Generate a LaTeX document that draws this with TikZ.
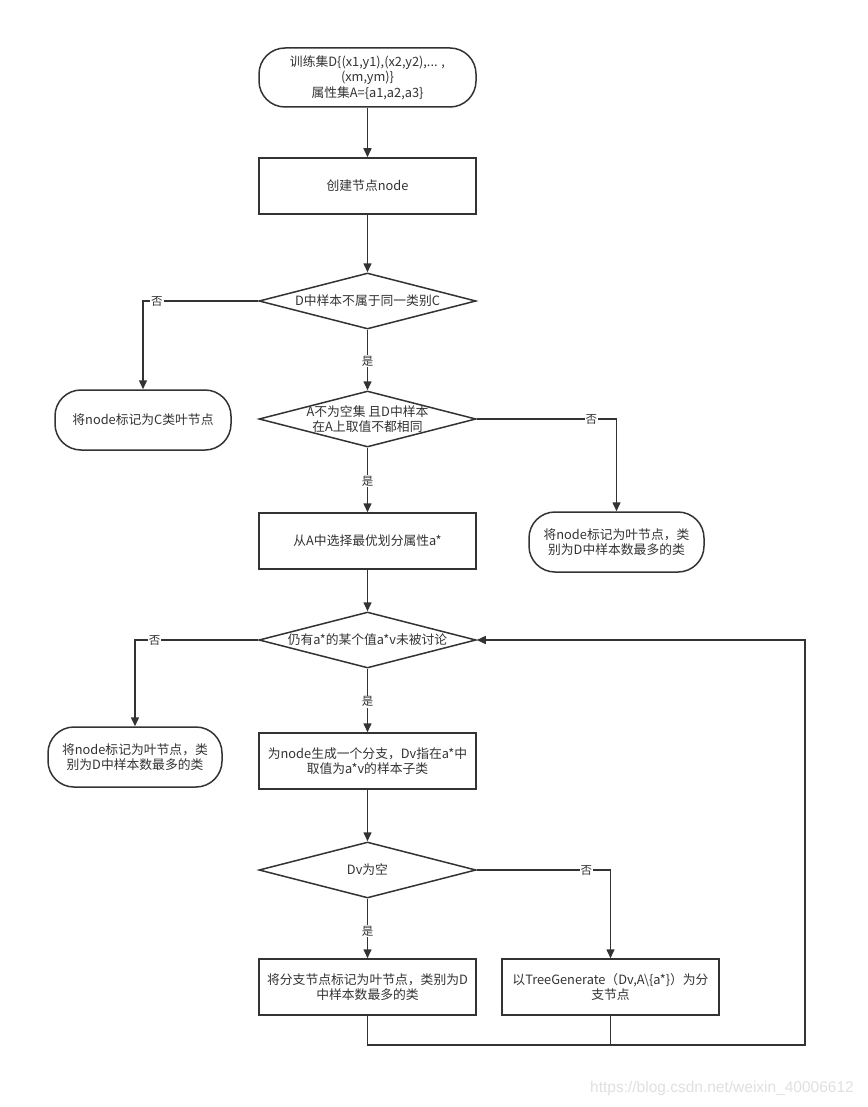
\documentclass[tikz,border=0pt]{standalone}
\usepackage{fontspec}
\newfontfamily\cjk{Noto Sans CJK SC}
\newfontfamily\wmfont{Liberation Sans}
\usetikzlibrary{shapes.geometric,arrows.meta}
\definecolor{ln}{HTML}{333333}
\begin{document}
\begin{tikzpicture}[x=1pt,y=-1pt,
 every node/.style={font=\cjk\fontsize{12.8}{15.5}\selectfont, text=ln},
 proc/.style={draw=ln, line width=1.5pt, rectangle, minimum width=217pt, minimum height=56pt, align=center, fill=white},
 term/.style={draw=ln, line width=1.5pt, rectangle, rounded corners=26pt, minimum height=60pt, align=center, fill=white},
 dec/.style={draw=ln, line width=1.5pt, diamond, minimum width=217pt, minimum height=56pt, inner sep=0pt, fill=white},
 yn/.style={fill=white, inner sep=1pt, font=\cjk\fontsize{11.5}{13}\selectfont},
 conn/.style={draw=ln, line width=1.5pt, -{Triangle[length=9pt,width=8pt]}},
 plain/.style={draw=ln, line width=1.5pt},
]
\useasboundingbox[fill=white] (0,0) rectangle (867,1107);

\node[term, minimum width=217pt, minimum height=59pt] (start) at (367.5,77.5)
  {训练集D\{(x1,y1),(x2,y2),... ,\\(xm,ym)\}\\属性集A=\{a1,a2,a3\}};
\node[proc] (create) at (367.5,186) {创建节点node};
\node[dec, label={[align=center]center:D中样本不属于同一类别C}] (d1) at (367.5,301) {};
\node[term, minimum width=176pt] (leafC) at (143,420) {将node标记为C类叶节点};
\node[dec, label={[align=center]center:A不为空集 且D中样本\\在A上取值不都相同}] (d2) at (367.5,419) {};
\node[term, minimum width=175pt] (leaf1) at (616.5,542) {将node标记为叶节点，类\\别为D中样本数最多的类};
\node[proc] (sel) at (367.5,541) {从A中选择最优划分属性a*};
\node[dec, label={[align=center]center:仍有a*的某个值a*v未被讨论}] (d3) at (367.5,640) {};
\node[term, minimum width=174pt] (leaf2) at (135,757) {将node标记为叶节点，类\\别为D中样本数最多的类};
\node[proc] (branch) at (367.5,761) {为node生成一个分支，Dv指在a*中\\取值为a*v的样本子类};
\node[dec, label={[align=center]center:Dv为空}] (d4) at (367.5,870) {};
\node[proc] (leaf3) at (367.5,987) {将分支节点标记为叶节点，类别为D\\中样本数最多的类};
\node[proc] (gen) at (610.5,987) {以TreeGenerate（Dv,A\textbackslash\{a*\}）为分\\支节点};

\coordinate (loopR) at (805,1045);

\draw[conn] (start) -- (create);
\draw[conn] (create) -- (d1);
\draw[conn] (d1.west) -| node[yn, pos=0.44]{否} (leafC.north);
\draw[conn] (d1) -- node[yn, pos=0.52]{是} (d2);
\draw[conn] (d2.east) -| node[yn, pos=0.41]{否} (leaf1.north);
\draw[conn] (d2) -- node[yn, pos=0.52]{是} (sel);
\draw[conn] (sel) -- (d3);
\draw[conn] (d3.west) -| node[yn, pos=0.42]{否} (leaf2.north);
\draw[conn] (d3) -- node[yn, pos=0.52]{是} (branch);
\draw[conn] (branch) -- (d4);
\draw[conn] (d4.east) -| node[yn, pos=0.41]{否} (gen.north);
\draw[conn] (d4) -- node[yn, pos=0.54]{是} (leaf3);
\draw[conn] (leaf3.south) |- (loopR) |- (d3.east);
\draw[plain] (gen.south) -- (gen.south |- loopR);

\node[font=\wmfont\fontsize{15.5}{17}\selectfont, text=black!12] (wm) at (722,1088) {https://blog.csdn.net/weixin\_40006612};
\end{tikzpicture}
\end{document}
